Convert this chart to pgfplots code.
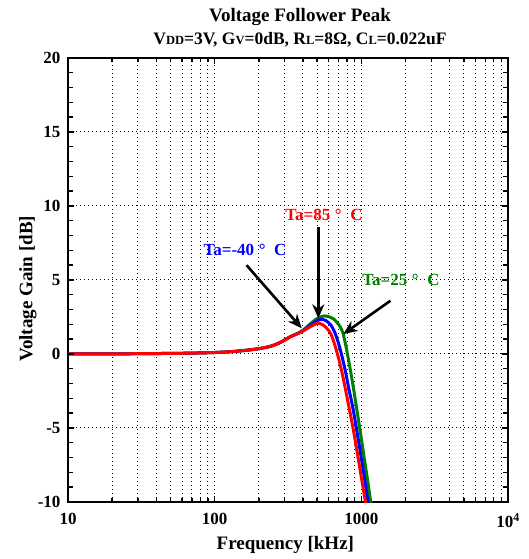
\documentclass[border=0pt]{standalone}
\usepackage{pgfplots}
\pgfplotsset{compat=1.18}
\usepackage{pgfplotstable}
\usepackage{fontspec}
\setmainfont{Liberation Serif}
\usetikzlibrary{arrows.meta}
\definecolor{cgreen}{RGB}{0,128,0}

\pgfplotstableread{
f g
10 0.00
20 0.01
30 0.02
50 0.04
70 0.06
100 0.10
130 0.16
160 0.24
200 0.36
240 0.52
280 0.78
330 1.18
370 1.38
400 1.55
450 1.85
502 2.07
540 2.00
580 1.75
620 1.35
660 0.60
700 -0.30
740 -1.30
780 -2.40
820 -3.50
870 -4.80
925 -6.30
980 -7.80
1030 -9.10
1072 -10.10
1100 -10.80
}\redtab

\pgfplotstableread{
f g
10 0.00
20 0.01
30 0.02
50 0.04
70 0.06
100 0.10
130 0.16
160 0.24
200 0.36
240 0.52
280 0.78
330 1.18
370 1.39
400 1.57
450 1.93
500 2.25
533 2.34
575 2.25
620 1.95
660 1.45
700 0.70
740 -0.20
780 -1.20
820 -2.30
870 -3.50
925 -5.00
980 -6.50
1040 -8.10
1112 -10.00
1140 -10.70
}\bluetab

\pgfplotstableread{
f g
10 0.00
20 0.01
30 0.02
50 0.04
70 0.06
100 0.10
130 0.16
160 0.24
200 0.36
240 0.52
280 0.78
330 1.18
370 1.40
400 1.60
450 2.05
500 2.40
556 2.57
600 2.52
650 2.35
700 2.00
730 1.70
750 1.42
790 0.40
830 -0.75
880 -2.20
930 -3.70
980 -5.15
1040 -6.85
1100 -8.45
1159 -10.00
1190 -10.80
}\greentab

\begin{document}
\begin{tikzpicture}
\begin{axis}[
  at={(0pt,0pt)}, anchor=south west,
  scale only axis, width=440pt, height=444pt,
  xmode=log, log basis x=10,
  xmin=10, xmax=10000, ymin=-10, ymax=20,
  xtick={10,100,1000,10000},
  xticklabels={10,100,1000,10\textsuperscript{4}},
  minor xtick={20,30,40,50,60,70,80,90,200,300,400,500,600,700,800,900,2000,3000,4000,5000,6000,7000,8000,9000},
  ytick={-10,-5,0,5,10,15,20},
  yticklabels={-10,-5,0,5,10,15,20},
  grid=both,
  grid style={black, line width=1pt, dash pattern=on 1pt off 3pt},
  tick align=inside,
  major tick length=6pt, minor tick length=4pt,
  every tick/.append style={black, line width=1.4pt},
  axis line style={line width=2.2pt},
  ticklabel style={font=\bfseries\fontsize{17}{17}\selectfont},
  xticklabel style={yshift=-8pt},
  yticklabel style={xshift=-4pt},
  xlabel={Frequency [kHz]},
  ylabel={Voltage Gain [dB]},
  label style={font=\bfseries\fontsize{19}{19}\selectfont},
  xlabel style={at={(axis description cs:0.494,-0.097)}, anchor=center},
  ylabel style={at={(axis description cs:-0.091,0.48)}, anchor=center},
]
\addplot[cgreen, line width=3pt, smooth] table[x=f,y=g] {\greentab};
\addplot[blue, line width=3pt, smooth] table[x=f,y=g] {\bluetab};
\addplot[red, line width=3pt, smooth] table[x=f,y=g] {\redtab};

\pgfplotsinvokeforeach{-9,-8,-7,-6,-4,-3,-2,-1,1,2,3,4,6,7,8,9,11,12,13,14,16,17,18,19}{
  \draw[line width=1.4pt] (axis cs:10,#1) -- ++(5pt,0pt);
  \draw[line width=1.4pt] (axis cs:10000,#1) -- ++(-5pt,0pt);
}
\pgfplotsinvokeforeach{-10,-5,0,5,10,15,20}{
  \draw[line width=1.4pt] (axis cs:10,#1) -- ++(6pt,0pt);
  \draw[line width=1.4pt] (axis cs:10000,#1) -- ++(-6pt,0pt);
}

\draw[line width=2.6pt, -{Stealth[length=14pt,width=12pt]}] (axis cs:165,6.0) -- (axis cs:392,1.74);
\draw[line width=2.6pt, -{Stealth[length=14pt,width=12pt]}] (axis cs:509,8.56) -- (axis cs:509,2.41);
\draw[line width=2.6pt, -{Stealth[length=14pt,width=12pt]}] (axis cs:1580,3.6) -- (axis cs:754,1.35);

\node[text=blue, font=\bfseries\fontsize{17}{17}\selectfont] at (axis cs:161,7.03) {Ta=-40\;°\enspace C};
\node[text=red, font=\bfseries\fontsize{17}{17}\selectfont] at (axis cs:556,9.39) {Ta=85\;°\enspace C};
\node[text=cgreen, font=\bfseries\fontsize{17}{17}\selectfont] at (axis cs:1862,5.0) {Ta=25\;°\enspace C};
\end{axis}
\node[anchor=base, font=\bfseries\fontsize{19}{19}\selectfont] at (232pt,480pt) {Voltage Follower Peak};
\node[anchor=base, font=\bfseries\fontsize{17.5}{17.5}\selectfont] at (232pt,457pt)
  {V{\fontsize{12.5}{12.5}\selectfont DD}=3V, G{\fontsize{12.5}{12.5}\selectfont V}=0dB, R{\fontsize{12.5}{12.5}\selectfont L}=8Ω, C{\fontsize{12.5}{12.5}\selectfont L}=0.022uF};
\pgfresetboundingbox
\path (-68pt,-57pt) rectangle (461pt,502pt);
\end{tikzpicture}
\end{document}
